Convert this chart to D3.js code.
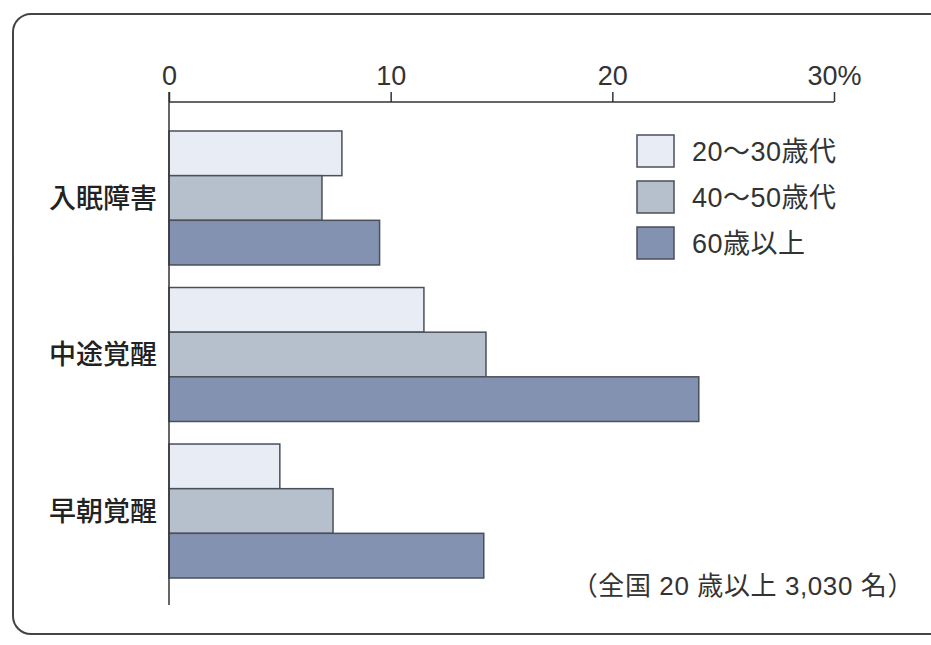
<!DOCTYPE html>
<html><head><meta charset="utf-8">
<script src="https://cdn.jsdelivr.net/npm/d3@7/dist/d3.min.js"></script>
<style>html,body{margin:0;padding:0;background:#fff;}svg{display:block;}</style>
</head><body>
<svg id="chart" width="931" height="645"></svg>
<script>
const categories = ["入眠障害", "中途覚醒", "早朝覚醒"];
const series = ["20～30歳代", "40～50歳代", "60歳以上"];
const values = [
  [7.8, 6.9, 9.5],
  [11.5, 14.3, 23.9],
  [5.0, 7.4, 14.2]
];
const tickValues = [0, 10, 20, 30];
const tickLabels = ["0", "10", "20", "30%"];
const colors = ["#e8ecf5", "#b6c0cd", "#8292b0"];
const note = "（全国 20 歳以上 3,030 名）";

const svg = d3.select("#chart");
const sans = "'Liberation Sans', Arial, sans-serif";
const mixed = "'Liberation Sans', 'Noto Sans CJK JP', sans-serif";
const cjk = "'Noto Sans CJK JP', 'Noto Sans', sans-serif";

// frame
svg.append("rect").attr("x", 13).attr("y", 14).attr("width", 945).attr("height", 620)
  .attr("rx", 18).attr("fill", "none").attr("stroke", "#444").attr("stroke-width", 2);

const x = d3.scaleLinear().domain([0, 30]).range([169, 834]);
const y0 = d3.scaleBand().domain(categories).range([131, 578]).paddingInner(0.144).paddingOuter(0);
const y1 = d3.scaleBand().domain(series).range([0, y0.bandwidth()]);

// bars
categories.forEach((c, ci) => {
  const g = svg.append("g").attr("transform", `translate(0,${y0(c)})`);
  g.selectAll("rect").data(series.map((s, si) => ({s, si, v: values[ci][si]})))
    .enter().append("rect")
    .attr("x", x(0))
    .attr("y", d => y1(d.s))
    .attr("width", d => x(d.v) - x(0))
    .attr("height", y1.bandwidth())
    .attr("fill", d => colors[d.si])
    .attr("stroke", "#4a4f5a").attr("stroke-width", 1.5);
});

// top axis
const axis = d3.axisTop(x).tickValues(tickValues).tickSize(10)
  .tickFormat((d, i) => tickLabels[i]);
const ag = svg.append("g").attr("transform", "translate(0,102)").call(axis);
ag.select(".domain").attr("d", `M${x(0)},0H${x(30)}`).attr("stroke", "#333").attr("stroke-width", 1.5);
ag.selectAll(".tick line").attr("stroke", "#333").attr("stroke-width", 1.5);
ag.selectAll(".tick text").attr("y", -17).attr("font-size", 27).attr("font-family", sans)
  .attr("fill", "#333");

// vertical axis line
svg.append("line").attr("x1", x(0)).attr("x2", x(0)).attr("y1", 92).attr("y2", 605)
  .attr("stroke", "#333").attr("stroke-width", 1.5);

// category labels
svg.selectAll(".cat").data(categories).enter().append("text")
  .attr("class", "cat")
  .attr("x", 157)
  .attr("y", d => y0(d) + y0.bandwidth() / 2)
  .attr("dy", "0.36em")
  .attr("text-anchor", "end")
  .attr("font-family", cjk).attr("font-size", 27).attr("font-weight", 500)
  .attr("fill", "#222")
  .text(d => d);

// legend
const lg = svg.append("g").attr("transform", "translate(637,135)");
series.forEach((s, i) => {
  const row = lg.append("g").attr("transform", `translate(0,${i * 46})`);
  row.append("rect").attr("width", 37).attr("height", 32)
    .attr("fill", colors[i]).attr("stroke", "#4a4f5a").attr("stroke-width", 1.5);
  row.append("text").attr("x", 55).attr("y", 16).attr("dy", "0.36em")
    .attr("font-family", mixed).attr("font-size", 27).attr("letter-spacing", 0.5).attr("fill", "#333")
    .text(s);
});

// note
svg.append("text").attr("x", 914).attr("y", 586).attr("dy", "0.36em")
  .attr("text-anchor", "end").attr("font-family", mixed).attr("font-size", 26)
  .attr("letter-spacing", 0.6).attr("fill", "#333").text(note);
</script>
</body></html>
